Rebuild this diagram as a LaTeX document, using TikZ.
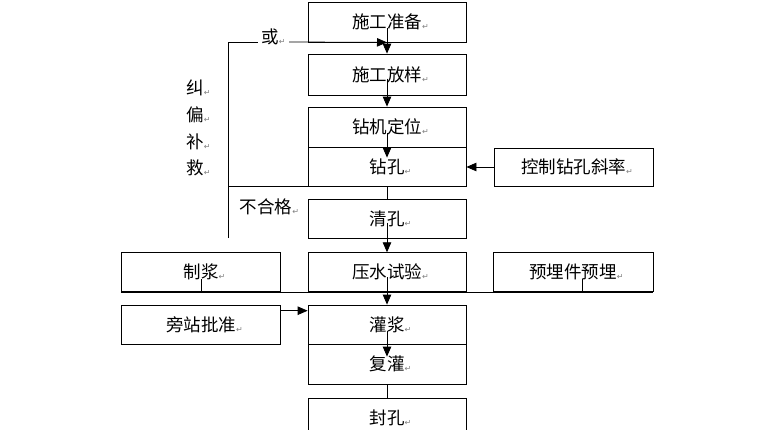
\documentclass[tikz,border=0pt]{standalone}
\usepackage{fontspec}
\setmainfont{Noto Sans CJK SC}
\newfontfamily\symfont{DejaVu Sans}
\usetikzlibrary{arrows.meta}
\newcommand\parmark{\rlap{\symfont\fontsize{8}{8}\selectfont\color{gray}\raisebox{-1pt}{↵}}}
\tikzset{
  stepbox/.style={draw,minimum width=158pt,minimum height=40pt,inner sep=0pt,font=\fontsize{17.5}{18}\selectfont},
  lbl/.style={inner sep=1pt,font=\fontsize{17.5}{18}\selectfont},
  arr/.style={-{Triangle[length=10pt,width=8.5pt]}},
}
\begin{document}
\begin{tikzpicture}[x=1pt,y=-1pt,line width=0.8pt]
\useasboundingbox (0,0) rectangle (760,429);
\clip (0,0) rectangle (760,429);
\node[stepbox] (prep) at (387,22) {施工准备\parmark};
\node[stepbox,minimum height=41pt] (stake) at (387,74.5) {施工放样\parmark};
\node[stepbox] (rig) at (387,127) {钻机定位\parmark};
\node[stepbox,minimum height=39pt] (drill) at (387,166.5) {钻孔\parmark};
\node[stepbox,minimum height=39pt] (clean) at (387,218.5) {清孔\parmark};
\node[stepbox,minimum height=39pt] (press) at (387,272.2) {压水试验\parmark};
\node[stepbox,minimum height=39pt] (grout) at (387,324.5) {灌浆\parmark};
\node[stepbox] (regrout) at (387,364) {复灌\parmark};
\node[stepbox] (seal) at (387,418) {封孔\parmark};
\node[stepbox,minimum width=159.5pt,minimum height=39pt] (mix) at (201,272.2) {制浆\parmark};
\node[stepbox,minimum width=159.5pt,minimum height=39pt] (approve) at (201,324.7) {旁站批准\parmark};
\node[stepbox,minimum width=160pt,minimum height=39pt] (embed) at (573,272.2) {预埋件预埋\parmark};
\node[stepbox,minimum width=159pt,minimum height=38pt] (slope) at (573.5,167) {控制钻孔斜率\parmark};
\node[lbl,inner xsep=3pt] (or) at (273.5,37) {或{\symfont\fontsize{8}{8}\selectfont\color{gray}\raisebox{-1pt}{↵}}};
\node[lbl] (fail) at (266,207) {不合格\parmark};
\node[lbl] (fix1) at (195,88) {纠\parmark};
\node[lbl] (fix2) at (195,115) {偏\parmark};
\node[lbl] (fix3) at (195,142) {补\parmark};
\node[lbl] (fix4) at (195,168) {救\parmark};
\coordinate (fixtop) at (228,42);
\coordinate (fixbot) at (228,238);
\draw (fixbot) -- (fixtop) -- (fixtop -| or.west);
\draw[arr] (fixtop -| or.east) -- (prep.south);
\draw (drill.south west) -- (drill.south west -| fixtop);
\draw[arr] ([yshift=-6pt]prep.center) -- (stake.north);
\draw[arr] ([yshift=-4pt]stake.center) -- (rig.north);
\draw[arr] ([yshift=-6pt]rig.center) -- ([yshift=-11pt]drill.north);
\draw (drill.south) -- (clean.north);
\draw[arr] ([yshift=-4pt]clean.center) -- (press.north);
\draw[arr] (slope.west) -- (slope.west -| drill.east);
\draw (mix.south west) -- (embed.south east);
\draw (mix.south) -- ++(0,-13);
\draw (embed.south) ++(9,0) -- ++(0,-13);
\draw[arr] ([yshift=-5pt]press.center) -- (grout.north);
\draw[arr] ([yshift=14pt]approve.east) -- ([yshift=14pt]approve.east -| grout.west);
\draw[arr] ([yshift=-6pt]grout.center) -- ([yshift=-13pt]regrout.north);
\draw (regrout.south) -- (seal.north);
\end{tikzpicture}
\end{document}
